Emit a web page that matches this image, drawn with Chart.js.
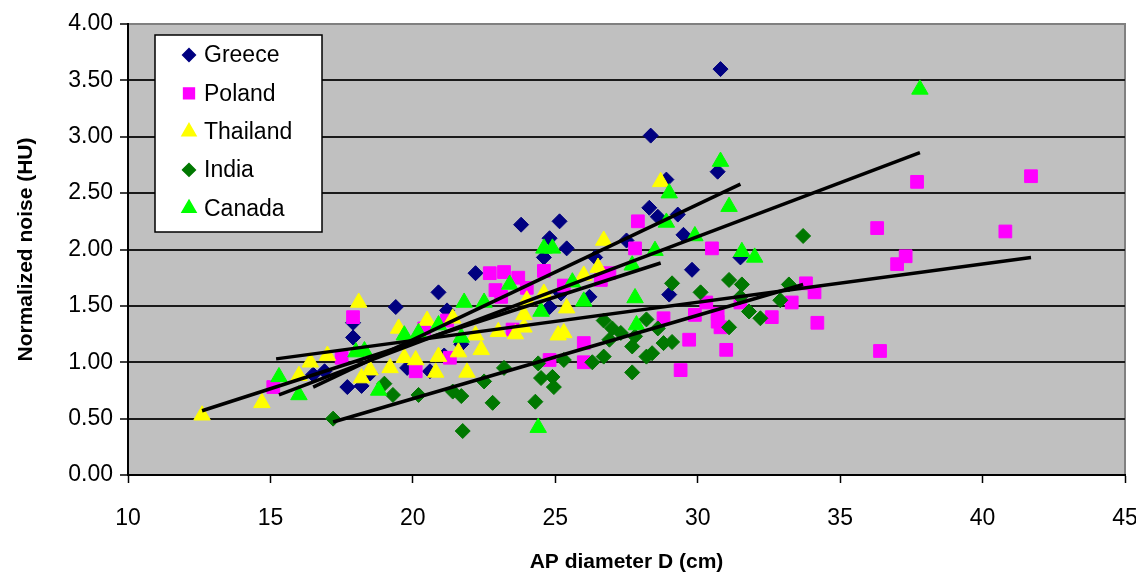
<!DOCTYPE html>
<html>
<head>
<meta charset="utf-8">
<script src="https://cdn.jsdelivr.net/npm/chart.js@4.4.0/dist/chart.umd.min.js"></script>
<style>
  body { margin: 0; background: #fff; }
  #wrap { width: 1136px; height: 579px; }
</style>
</head>
<body>
<div id="wrap"><canvas id="noiseChart" width="1136" height="579"></canvas></div>
<script>
// AP diameter D (cm), normalized noise (HU) pairs
const greece = [
  [16.5, 0.89], [16.9, 0.92], [17.7, 0.78], [17.9, 1.22], [17.9, 1.35], [18.2, 0.79],
  [18.5, 0.90], [19.4, 1.49], [19.8, 0.95], [20.6, 0.92], [20.9, 1.62], [21.1, 1.06],
  [21.2, 1.46], [21.7, 1.16], [22.2, 1.79], [23.8, 2.22], [24.6, 1.93], [24.8, 2.10],
  [24.8, 1.49], [25.15, 2.25], [25.2, 1.61], [25.4, 2.01], [26.2, 1.58], [26.4, 1.93],
  [27.5, 2.08], [28.3, 2.37], [28.35, 3.01], [28.6, 2.29], [28.9, 2.62], [29.0, 1.60],
  [29.3, 2.31], [29.5, 2.13], [29.8, 1.82], [30.7, 2.69], [30.8, 3.60], [31.5, 1.93]
];
const poland = [
  [15.1, 0.78], [17.5, 1.04], [17.9, 1.40], [20.1, 0.92], [20.4, 1.30], [21.2, 1.37],
  [21.3, 1.04], [22.7, 1.79], [22.9, 1.64], [23.1, 1.58], [23.2, 1.80], [23.5, 1.29],
  [23.7, 1.75], [24.0, 1.66], [24.6, 1.81], [24.8, 1.02], [25.3, 1.68], [26.0, 1.17],
  [26.0, 1.00], [26.6, 1.73], [26.9, 1.79], [27.8, 2.01], [27.9, 2.25], [28.8, 1.39],
  [29.4, 0.93], [29.7, 1.20], [29.9, 1.42], [30.3, 1.53], [30.5, 2.01], [30.7, 1.36],
  [30.7, 1.43], [30.8, 1.31], [31.0, 1.11], [31.5, 1.53], [32.6, 1.40], [33.3, 1.53],
  [33.8, 1.70], [34.1, 1.62], [34.2, 1.35], [36.3, 2.19], [36.4, 1.10], [37.0, 1.87],
  [37.3, 1.94], [37.7, 2.60], [40.8, 2.16], [41.7, 2.65]
];
const thailand = [
  [12.6, 0.53], [14.7, 0.64], [16.0, 0.88], [16.4, 1.00], [17.0, 1.06], [18.1, 1.53],
  [18.2, 0.86], [18.5, 0.93], [19.2, 0.95], [19.5, 1.30], [19.7, 1.04], [20.1, 1.02],
  [20.5, 1.37], [20.8, 0.91], [20.9, 1.05], [21.4, 1.39], [21.6, 1.09], [21.9, 0.91],
  [22.2, 1.24], [22.4, 1.11], [23.0, 1.27], [23.6, 1.25], [23.9, 1.31], [23.9, 1.42],
  [24.0, 1.55], [24.6, 1.61], [25.1, 1.24], [25.3, 1.26], [25.4, 1.48], [26.0, 1.77],
  [26.5, 1.84], [26.7, 2.08], [28.7, 2.60]
];
const india = [
  [17.2, 0.50], [19.0, 0.81], [19.3, 0.71], [20.2, 0.71], [21.4, 0.74], [21.7, 0.70],
  [21.75, 0.39], [22.5, 0.83], [22.8, 0.64], [23.2, 0.95], [24.3, 0.65], [24.4, 0.99],
  [24.5, 0.86], [24.9, 0.87], [24.95, 0.78], [25.3, 1.02], [26.3, 1.00], [26.7, 1.05],
  [26.7, 1.37], [26.9, 1.20], [27.0, 1.30], [27.3, 1.26], [27.7, 0.91], [27.7, 1.14],
  [27.8, 1.23], [28.2, 1.38], [28.2, 1.05], [28.4, 1.08], [28.6, 1.30], [28.8, 1.17],
  [29.1, 1.18], [29.1, 1.70], [30.1, 1.62], [31.1, 1.73], [31.1, 1.31], [31.5, 1.58],
  [31.55, 1.69], [31.8, 1.45], [32.2, 1.39], [32.9, 1.55], [33.2, 1.69], [33.7, 2.12]
];
const canada = [
  [15.3, 0.87], [16.0, 0.71], [18.0, 1.09], [18.3, 1.10], [18.8, 0.75], [19.7, 1.24],
  [20.2, 1.26], [20.9, 1.33], [21.7, 1.22], [21.8, 1.53], [22.5, 1.53], [23.4, 1.69],
  [24.4, 0.42], [24.5, 1.45], [24.6, 2.01], [24.9, 2.01], [25.6, 1.71], [26.0, 1.54],
  [27.7, 1.86], [27.8, 1.57], [27.85, 1.33], [28.5, 1.99], [28.9, 2.24], [29.0, 2.50],
  [29.9, 2.12], [30.8, 2.78], [31.1, 2.38], [31.55, 1.98], [32.0, 1.93], [37.8, 3.42]
];

// linear trend lines, end points
const greeceTrend = [[16.5, 0.78], [31.5, 2.58]];
const polandTrend = [[15.2, 1.03], [41.7, 1.93]];
const thailandTrend = [[12.6, 0.57], [28.7, 1.88]];
const indiaTrend = [[17.2, 0.47], [33.7, 1.69]];
const canadaTrend = [[15.3, 0.71], [37.8, 2.86]];

const toPoints = arr => arr.map(p => ({ x: p[0], y: p[1] }));

function series(label, data, color, style, radius, order) {
  return {
    label: label,
    data: toPoints(data),
    backgroundColor: color,
    borderColor: color,
    borderWidth: 1,
    pointStyle: style,
    pointRadius: radius,
    pointHoverRadius: radius,
    showLine: false,
    order: order
  };
}

function trend(data) {
  return {
    label: '',
    data: toPoints(data),
    showLine: true,
    borderColor: '#000',
    borderWidth: 3.5,
    pointRadius: 0,
    fill: false,
    isTrend: true,
    order: 0
  };
}

// gray plot area + custom legend box inside it
const plotBackground = {
  id: 'plotBackground',
  beforeDraw(chart) {
    const { ctx, chartArea: a } = chart;
    ctx.save();
    ctx.fillStyle = '#c0c0c0';
    ctx.fillRect(a.left, a.top, a.right - a.left, a.bottom - a.top);
    ctx.strokeStyle = '#808080';
    ctx.lineWidth = 2;
    ctx.strokeRect(a.left, a.top, a.right - a.left, a.bottom - a.top);
    ctx.restore();
  }
};

const boxLegend = {
  id: 'boxLegend',
  afterDraw(chart) {
    const ctx = chart.ctx;
    const left = 155, top = 35, w = 167, h = 197;
    ctx.save();
    ctx.fillStyle = '#fff';
    ctx.fillRect(left, top, w, h);
    ctx.strokeStyle = '#000';
    ctx.lineWidth = 1.5;
    ctx.strokeRect(left, top, w, h);
    ctx.font = '23px "Liberation Sans", Arial, sans-serif';
    ctx.textBaseline = 'middle';
    ctx.textAlign = 'left';
    const items = chart.data.datasets.filter(d => !d.isTrend);
    items.forEach((d, i) => {
      const y = 55 + i * 38.3;
      ctx.fillStyle = d.backgroundColor;
      ctx.strokeStyle = d.borderColor;
      Chart.helpers.drawPoint(ctx, {
        pointStyle: d.pointStyle,
        rotation: 0,
        radius: d.pointRadius * 0.85,
        borderWidth: 1
      }, 189, y);
      ctx.fillStyle = '#000';
      ctx.fillText(d.label, 204, y + 1);
    });
    ctx.restore();
  }
};

const tickFont = { family: '"Liberation Sans", Arial, sans-serif', size: 23 };
const titleFont = { family: '"Liberation Sans", Arial, sans-serif', size: 21, weight: 'bold' };

new Chart(document.getElementById('noiseChart').getContext('2d'), {
  type: 'scatter',
  data: {
    datasets: [
      series('Greece', greece, '#000080', 'rectRot', 7.5, 5),
      series('Poland', poland, '#ff00ff', 'rect', 9, 4),
      series('Thailand', thailand, '#ffff00', 'triangle', 9.5, 3),
      series('India', india, '#007800', 'rectRot', 7.5, 2),
      series('Canada', canada, '#00ff00', 'triangle', 9.5, 1),
      trend(greeceTrend),
      trend(polandTrend),
      trend(thailandTrend),
      trend(indiaTrend),
      trend(canadaTrend)
    ]
  },
  options: {
    responsive: false,
    animation: false,
    layout: { padding: { left: 0, right: 11, top: 24, bottom: 0 } },
    plugins: {
      legend: { display: false },
      tooltip: { enabled: false }
    },
    scales: {
      x: {
        type: 'linear',
        min: 10,
        max: 45,
        afterFit: s => {
          s.height = 104;
          s.paddingLeft = 0;
          s.paddingRight = 0;
        },
        ticks: {
          stepSize: 5,
          maxRotation: 0,
          color: '#000',
          font: tickFont,
          padding: 22
        },
        grid: {
          drawOnChartArea: false,
          drawTicks: true,
          tickLength: 8,
          tickColor: '#000',
          tickWidth: 1.5
        },
        border: { color: '#000', width: 2 },
        title: {
          display: true,
          text: 'AP diameter D (cm)',
          color: '#000',
          font: titleFont,
          padding: { top: 0, bottom: 4 }
        }
      },
      y: {
        min: 0,
        max: 4,
        afterFit: s => {
          s.width = 128;
          s.paddingTop = 0;
          s.paddingBottom = 0;
        },
        ticks: {
          stepSize: 0.5,
          color: '#000',
          font: tickFont,
          padding: 7,
          callback: v => Number(v).toFixed(2)
        },
        grid: {
          color: ctx => (ctx.tick && ctx.tick.value === 4 ? 'rgba(0,0,0,0)' : '#1a1a1a'),
          lineWidth: 2,
          tickLength: 8,
          tickColor: '#000',
          tickWidth: 1.5
        },
        border: { color: '#000', width: 2 },
        title: {
          display: true,
          text: 'Normalized noise (HU)',
          color: '#000',
          font: titleFont,
          padding: { top: 14, bottom: 0 }
        }
      }
    }
  },
  plugins: [plotBackground, boxLegend]
});
</script>
</body>
</html>
